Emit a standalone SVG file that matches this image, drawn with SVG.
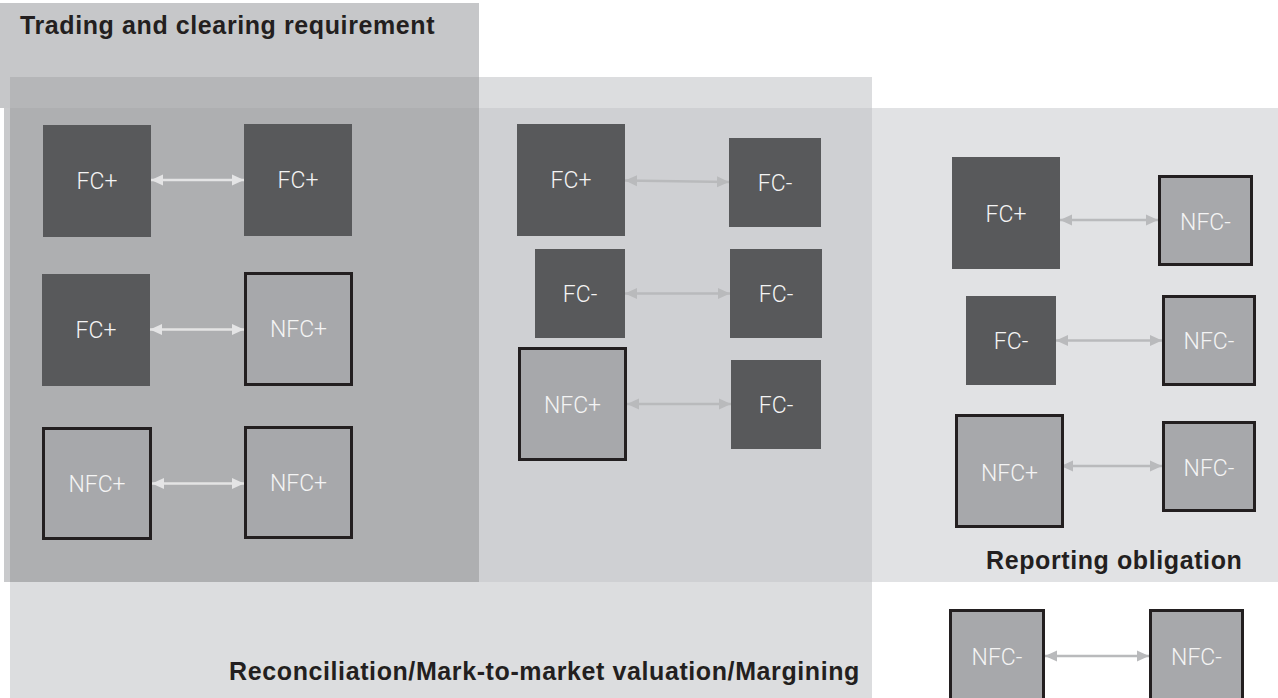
<svg xmlns="http://www.w3.org/2000/svg" width="1278" height="698" viewBox="0 0 1278 698">
<defs>
<style>
.dark{fill:#58595b}
.nfc{fill:#a7a8ab;stroke:#231f20;stroke-width:3}
.lbl{font-family:Roboto,"Liberation Sans",sans-serif;font-weight:300;font-size:23px;fill:#f4f4f4;text-anchor:middle}
.title{font-family:"Liberation Sans",Arial,sans-serif;font-weight:bold;font-size:25px;fill:#231f20;letter-spacing:0.6px}
.cl{fill:none;stroke:#e4e4e5;stroke-width:2.5;marker-start:url(#ahL);marker-end:url(#ahL)}
.cd{fill:none;stroke:#b9babc;stroke-width:2.5;marker-start:url(#ahD);marker-end:url(#ahD)}
</style>
<marker id="ahL" markerUnits="userSpaceOnUse" markerWidth="13" markerHeight="12" refX="12" refY="6" orient="auto-start-reverse"><path d="M0,0.5 L12,6 L0,11.5 z" fill="#e4e4e5"/></marker>
<marker id="ahD" markerUnits="userSpaceOnUse" markerWidth="13" markerHeight="12" refX="12" refY="6" orient="auto-start-reverse"><path d="M0,0.5 L12,6 L0,11.5 z" fill="#b9babc"/></marker>
</defs>
<rect width="1278" height="698" fill="#ffffff"/>
<g id="regions">
<rect x="0" y="3" width="479" height="105" fill="#c6c7c9"/>
<rect x="10" y="77" width="469" height="31" fill="#b5b6b8"/>
<rect x="479" y="77" width="393" height="31" fill="#dcdddf"/>
<rect x="4" y="108" width="6" height="474" fill="#c9cacc"/>
<rect x="10" y="108" width="469" height="474" fill="#aeafb1"/>
<rect x="479" y="108" width="393" height="474" fill="#cfd0d3"/>
<rect x="872" y="108" width="406" height="474" fill="#e1e2e4"/>
<rect x="10" y="582" width="862" height="116" fill="#dcdddf"/>
</g>
<g id="region-labels">
<text class="title" x="20" y="34">Trading and clearing requirement</text>
<text class="title" x="986" y="569" letter-spacing="0.4">Reporting obligation</text>
<text class="title" x="860" y="680" text-anchor="end" font-size="26" letter-spacing="0.4">Reconciliation/Mark-to-market valuation/Margining</text>
</g>
<g id="connectors">
<line class="cl" x1="151" y1="180" x2="244" y2="180"/>
<line class="cl" x1="150" y1="329.5" x2="244" y2="329.5"/>
<line class="cl" x1="152" y1="483.5" x2="244" y2="483.5"/>
<line class="cd" x1="625" y1="180.5" x2="729" y2="182"/>
<line class="cd" x1="625" y1="293.5" x2="730" y2="293.5"/>
<line class="cd" x1="627" y1="404" x2="731" y2="404"/>
<line class="cd" x1="1060" y1="220" x2="1158" y2="220"/>
<line class="cd" x1="1056" y1="340.5" x2="1162" y2="340.5"/>
<line class="cd" x1="1061" y1="466" x2="1162" y2="466"/>
<line class="cd" x1="1045" y1="656" x2="1149" y2="656"/>
</g>
<g id="n1"><rect class="dark" x="43" y="125" width="108" height="112"/><text class="lbl" x="97" y="189">FC+</text></g>
<g id="n2"><rect class="dark" x="244" y="124" width="108" height="112"/><text class="lbl" x="298" y="188">FC+</text></g>
<g id="n3"><rect class="dark" x="42" y="274" width="108" height="112"/><text class="lbl" x="96" y="338">FC+</text></g>
<g id="n4"><rect class="nfc" x="245.5" y="273.5" width="106" height="111"/><text class="lbl" x="298.5" y="337">NFC+</text></g>
<g id="n5"><rect class="nfc" x="43.5" y="428.5" width="107" height="110"/><text class="lbl" x="97" y="492">NFC+</text></g>
<g id="n6"><rect class="nfc" x="245.5" y="427.5" width="106" height="110"/><text class="lbl" x="298.5" y="491">NFC+</text></g>
<g id="n7"><rect class="dark" x="517" y="124" width="108" height="112"/><text class="lbl" x="571" y="188">FC+</text></g>
<g id="n8"><rect class="dark" x="729" y="138" width="92" height="89"/><text class="lbl" x="775" y="190.5">FC-</text></g>
<g id="n9"><rect class="dark" x="535" y="249" width="90" height="89"/><text class="lbl" x="580" y="302">FC-</text></g>
<g id="n10"><rect class="dark" x="730" y="249" width="92" height="89"/><text class="lbl" x="776" y="302">FC-</text></g>
<g id="n11"><rect class="nfc" x="519.5" y="348.5" width="106" height="111"/><text class="lbl" x="572.5" y="413">NFC+</text></g>
<g id="n12"><rect class="dark" x="731" y="360" width="90" height="89"/><text class="lbl" x="776" y="413">FC-</text></g>
<g id="n13"><rect class="dark" x="952" y="157" width="108" height="112"/><text class="lbl" x="1006" y="221.5">FC+</text></g>
<g id="n14"><rect class="nfc" x="1159.5" y="176.5" width="92" height="88"/><text class="lbl" x="1205.5" y="229.5">NFC-</text></g>
<g id="n15"><rect class="dark" x="966" y="296" width="90" height="89"/><text class="lbl" x="1011" y="349">FC-</text></g>
<g id="n16"><rect class="nfc" x="1163.5" y="296.5" width="91" height="88"/><text class="lbl" x="1209" y="349">NFC-</text></g>
<g id="n17"><rect class="nfc" x="956.5" y="415.5" width="106" height="111"/><text class="lbl" x="1009.5" y="481">NFC+</text></g>
<g id="n18"><rect class="nfc" x="1163.5" y="422.5" width="91" height="88"/><text class="lbl" x="1209" y="475.5">NFC-</text></g>
<g id="n19"><rect class="nfc" x="950.5" y="610.5" width="93" height="92"/><text class="lbl" x="997" y="664.5">NFC-</text></g>
<g id="n20"><rect class="nfc" x="1150.5" y="610.5" width="92" height="92"/><text class="lbl" x="1196.5" y="664.5">NFC-</text></g>
</svg>
